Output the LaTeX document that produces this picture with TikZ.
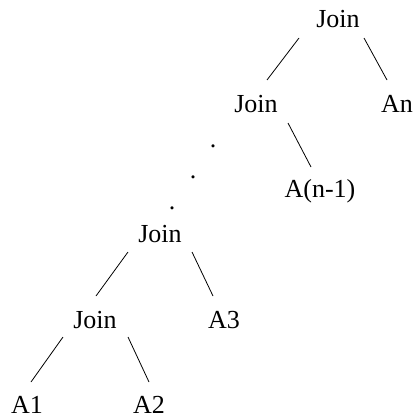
\documentclass[tikz,border=0pt]{standalone}
\usepackage{fontspec}
\setmainfont{Liberation Serif}
\usetikzlibrary{calc}
\begin{document}
\begin{tikzpicture}[x=1pt,y=-1pt,
  lbl/.style={anchor=base,inner sep=0pt,font=\fontsize{26}{30}\selectfont},
  edge/.style={line width=0.8pt}]
\useasboundingbox (0,0) rectangle (414,417);
% tree nodes, placed by baseline
\node[lbl] (j1)  at (338,28)  {Join};
\node[lbl] (j2)  at (256,113) {Join};
\node[lbl] (an)  at (397,113) {An};
\node[lbl] (an1) at (320,197) {A(n-1)};
\node[lbl] (j3)  at (160,242) {Join};
\node[lbl] (a3)  at (224,328) {A3};
\node[lbl] (j4)  at (95,328)  {Join};
\node[lbl] (a1)  at (27,413)  {A1};
\node[lbl] (a2)  at (149,413) {A2};
% vertical ellipsis between the two parts of the chain
\node[lbl] (d1) at (213,147) {.};
\node[lbl] (d2) at (193,178) {.};
\node[lbl] (d3) at (172,209) {.};
% branches
\draw[edge] ($(j1.base)+(-39,10)$) -- ($(j2.base)+(11,-33)$);
\draw[edge] ($(j1.base)+(26,10)$)  -- ($(an.base)+(-10,-33)$);
\draw[edge] ($(j2.base)+(32,10)$)  -- ($(an1.base)+(-9,-30)$);
\draw[edge] ($(j3.base)+(-32,10)$) -- ($(j4.base)+(1,-32)$);
\draw[edge] ($(j3.base)+(32,10)$)  -- ($(a3.base)+(-11,-32)$);
\draw[edge] ($(j4.base)+(-32,9)$)  -- ($(a1.base)+(4,-31)$);
\draw[edge] ($(j4.base)+(33,9)$)   -- ($(a2.base)+(0,-31)$);
\end{tikzpicture}
\end{document}
